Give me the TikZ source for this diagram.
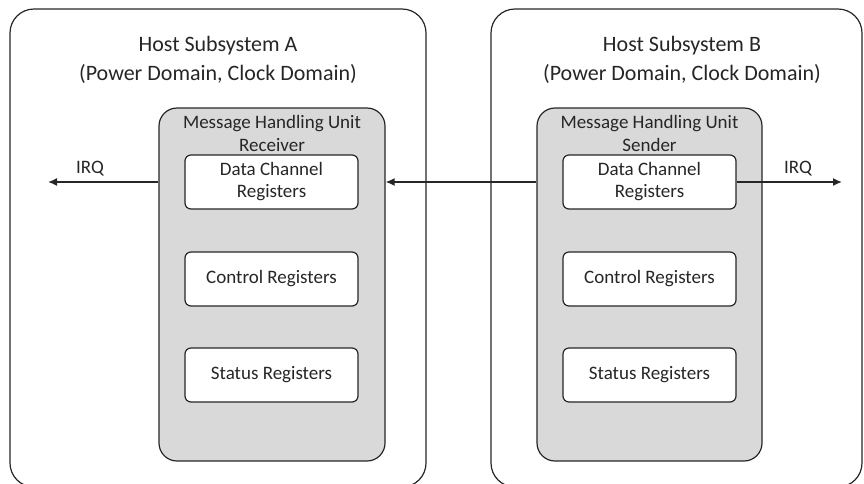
\documentclass[tikz,border=0pt]{standalone}
\usepackage{fontspec}
\setmainfont{Carlito}
\usetikzlibrary{arrows.meta}
\definecolor{unitgray}{HTML}{D9D9D9}
\definecolor{ink}{HTML}{262626}
\begin{document}
\begin{tikzpicture}[x=1pt,y=-1pt,
  hostbox/.style={draw=ink,line width=1.2pt,rounded corners=24pt,inner sep=0pt},
  unitbox/.style={draw=ink,fill=unitgray,line width=1.2pt,rounded corners=18pt,inner sep=0pt},
  regbox/.style={draw=ink,fill=white,line width=1.2pt,rounded corners=6pt,inner sep=0pt,
    minimum width=173pt,minimum height=54pt,align=center,
    font=\fontsize{19}{22}\selectfont,text=ink},
  hosttitle/.style={align=center,font=\fontsize{22}{29}\selectfont,text=ink,inner sep=0pt},
  unittitle/.style={align=center,font=\fontsize{19}{23}\selectfont,text=ink,inner sep=0pt},
  lbl/.style={font=\fontsize{19}{22}\selectfont,text=ink,inner sep=0pt},
  arr/.style={draw=ink,line width=1.5pt,-{Latex[length=9pt,width=8pt]}}]
\useasboundingbox (0,0) rectangle (864,483);
\begin{scope}
\clip (0,0) rectangle (864,483);

% host subsystems
\node[hostbox,minimum width=416pt,minimum height=478pt] (hostA) at (218,248) {};
\node[hostbox,minimum width=371pt,minimum height=478pt] (hostB) at (676.5,248) {};
\node[hosttitle] (titleA) at (218,59.5) {Host Subsystem A\\(Power Domain, Clock Domain)};
\node[hosttitle] (titleB) at (682,59.5) {Host Subsystem B\\(Power Domain, Clock Domain)};

% message handling units
\node[unitbox,minimum width=226pt,minimum height=353pt] (unitA) at (272,284.5) {};
\node[unitbox,minimum width=225pt,minimum height=353pt] (unitB) at (649.5,284.5) {};
\node[unittitle] (utA) at (272,133.5) {Message Handling Unit\\Receiver};
\node[unittitle] (utB) at (649.5,133.5) {Message Handling Unit\\Sender};

% registers
\node[regbox] (dataA) at (271.5,182) {Data Channel\\Registers};
\node[regbox] (ctrlA) at (271.5,279) {Control Registers};
\node[regbox] (statA) at (271.5,375) {Status Registers};
\node[regbox] (dataB) at (649.5,182) {Data Channel\\Registers};
\node[regbox] (ctrlB) at (649.5,279) {Control Registers};
\node[regbox] (statB) at (649.5,375) {Status Registers};

% interrupt outputs and the message channel
\coordinate (irqA) at (48,182);
\coordinate (irqB) at (842,182);
\node[lbl] (irqAl) at (90,169) {IRQ};
\node[lbl] (irqBl) at (798,169) {IRQ};
\draw[arr] (dataA.center -| unitA.west) -- (irqA);
\draw[arr] (dataB.center -| unitB.west) -- (dataA.center -| unitA.east);
\draw[arr] (dataB.east) -- (irqB);
\end{scope}
\end{tikzpicture}
\end{document}
